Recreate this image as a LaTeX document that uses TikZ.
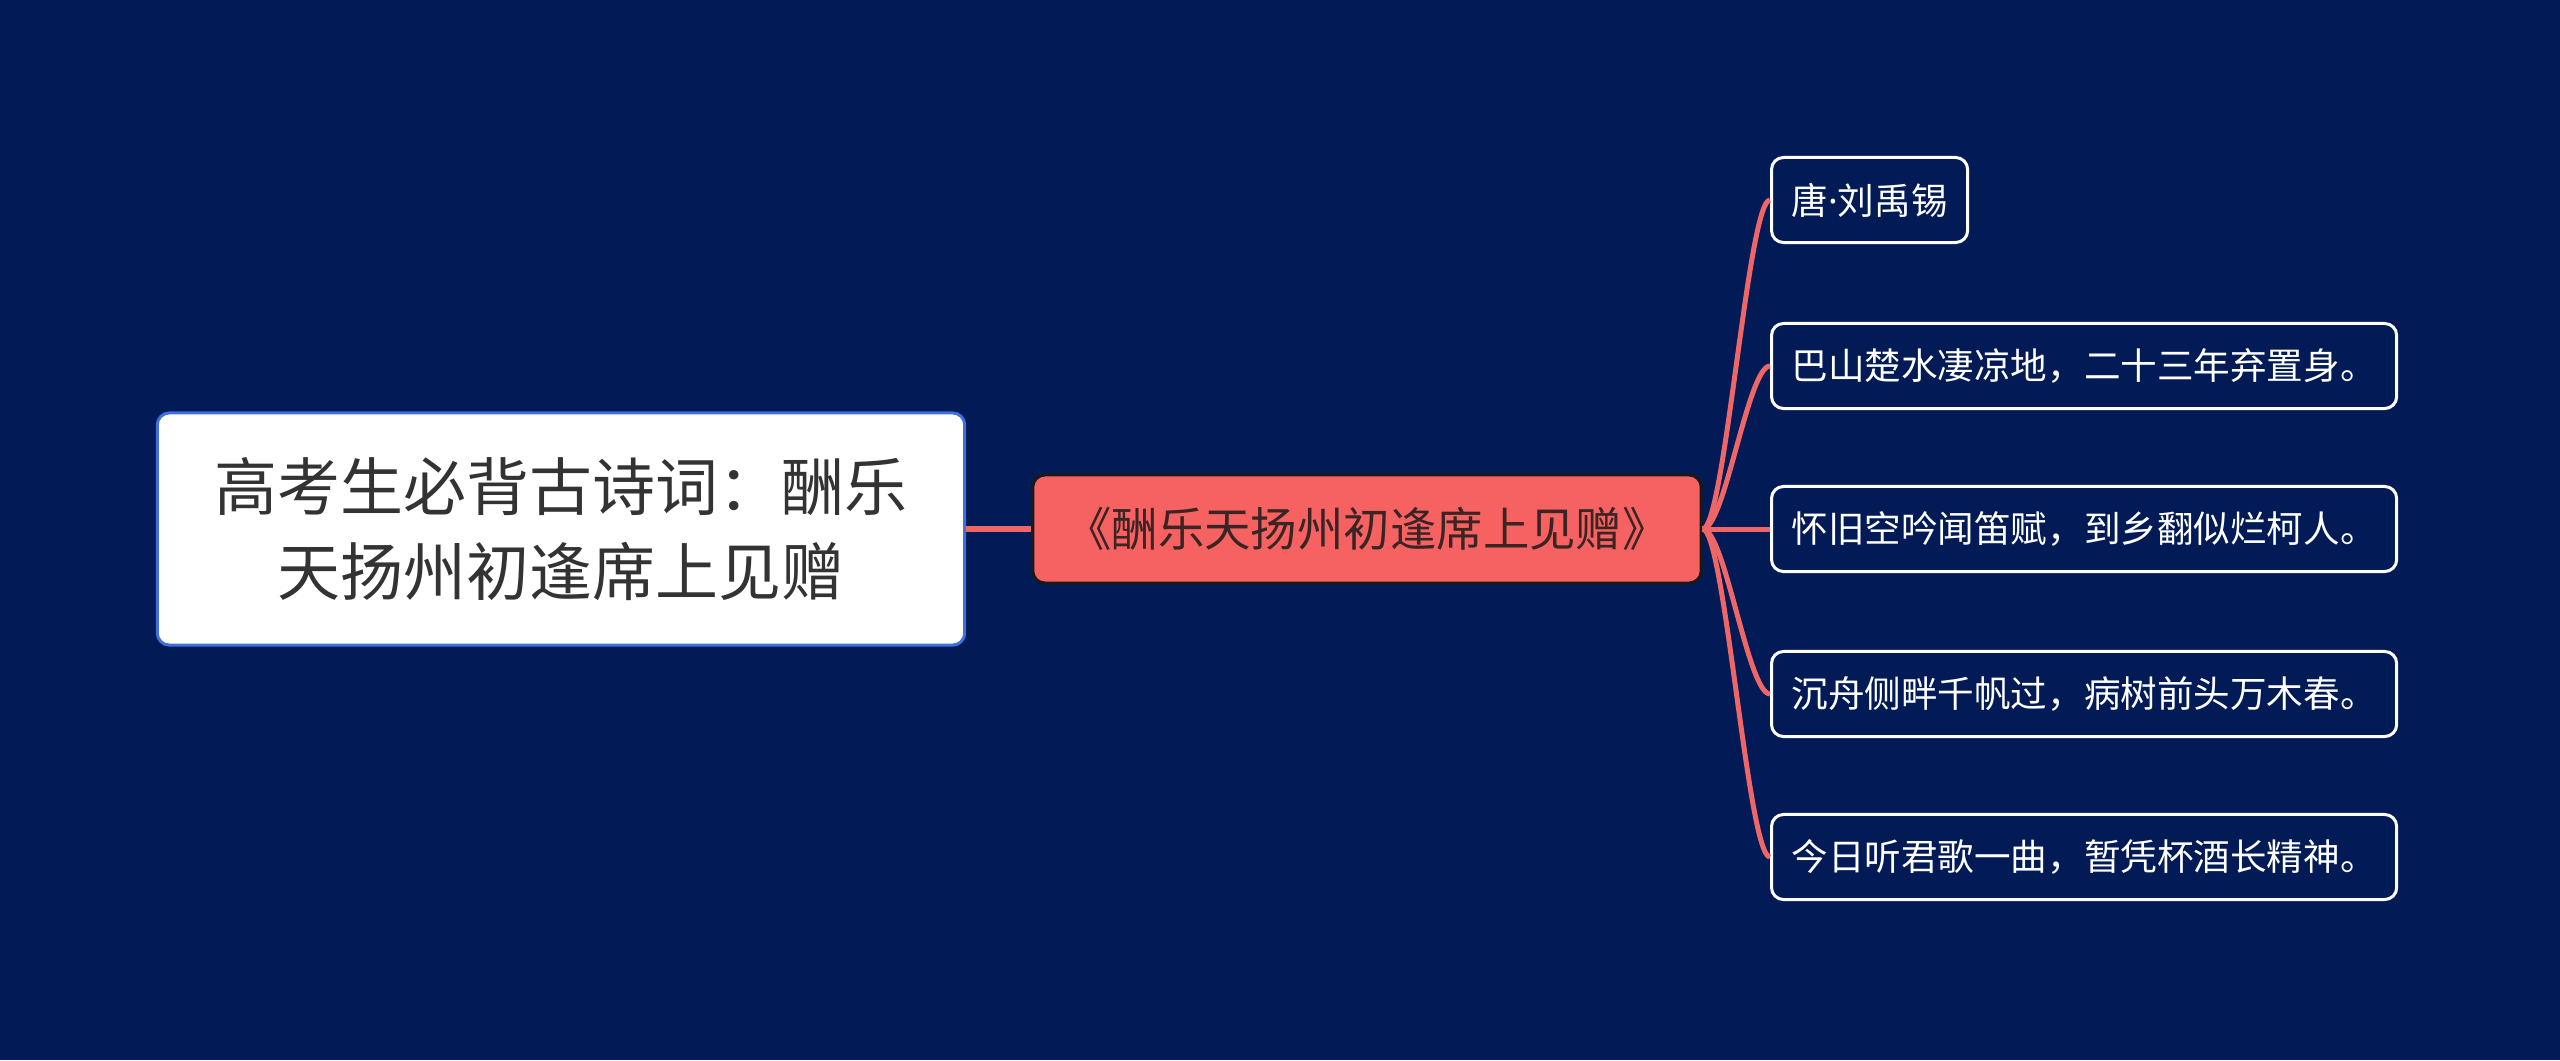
\documentclass[tikz,border=0pt]{standalone}
\usepackage{fontspec}
\setmainfont{Noto Sans CJK SC}
\newfontfamily\latinfont{Noto Sans}
\usetikzlibrary{positioning}
\definecolor{bgnavy}{RGB}{2,27,86}
\definecolor{rootblue}{RGB}{64,112,220}
\definecolor{mainred}{RGB}{246,98,98}
\definecolor{linkred}{RGB}{238,102,102}
\definecolor{maintext}{RGB}{58,36,36}
\definecolor{roottext}{RGB}{51,51,51}

\tikzset{
  rootbox/.style={draw=rootblue, line width=0.03cm, fill=white, rounded corners=0.12cm,
    minimum width=8.07cm, minimum height=2.32cm, align=center, text=roottext,
    font=\fontsize{17.9}{24}\selectfont},
  mainbox/.style={draw=black!90, line width=0.03cm, fill=mainred, rounded corners=0.12cm,
    minimum width=6.68cm, minimum height=1.08cm, text=maintext,
    font=\fontsize{13.2}{15}\selectfont},
  leafbox/.style={draw=white, line width=0.03cm, fill=bgnavy, rounded corners=0.12cm,
    minimum height=0.85cm, inner xsep=0.2cm, anchor=west, text=white,
    font=\fontsize{10.4}{12}\selectfont},
  link/.style={linkred, line width=0.05cm},
}

\begin{document}
\begin{tikzpicture}[x=0.01cm, y=-0.01cm]
  % background
  \fill[bgnavy] (0,0) rectangle (2560,1060);

  % root and main topic
  \node[rootbox] (root) at (561,529) {高考生必背古诗词：酬乐\\天扬州初逢席上见赠};
  \node[mainbox] (main) at (1367,529) {《酬乐天扬州初逢席上见赠》};
  \draw[link, line width=0.06cm] (root) -- (main);

  % leaves
  \foreach \k/\y/\txt in {1/200/{唐{\latinfont ·}刘禹锡},
                          2/366/{巴山楚水凄凉地，二十三年弃置身。},
                          3/529/{怀旧空吟闻笛赋，到乡翻似烂柯人。},
                          4/694/{沉舟侧畔千帆过，病树前头万木春。},
                          5/857/{今日听君歌一曲，暂凭杯酒长精神。}} {
    \node[leafbox] (leaf\k) at (1770,\y) {\txt};
    \draw[link] (main.east) .. controls +(22,0) and +(-22,0) .. (leaf\k.west);
  }
\end{tikzpicture}
\end{document}
